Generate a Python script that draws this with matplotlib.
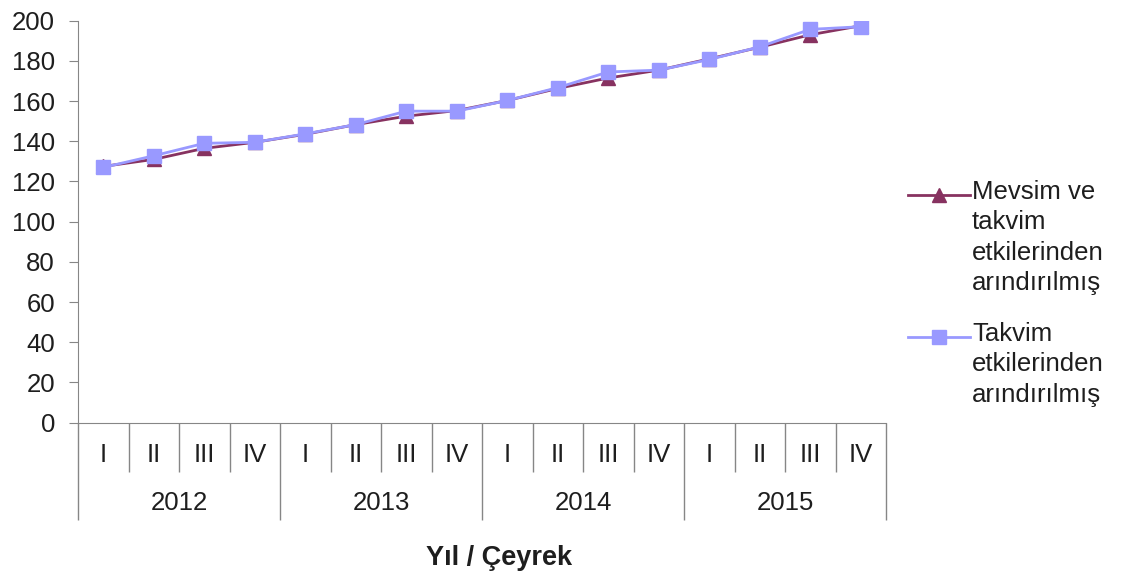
import matplotlib
matplotlib.use("Agg")
import matplotlib.pyplot as plt
from matplotlib.lines import Line2D
import numpy as np

plt.rcParams['font.family'] = ['Liberation Sans', 'DejaVu Sans']

years = ["2012", "2013", "2014", "2015"]
quarters = ["I", "II", "III", "IV"]
series1_label = "Mevsim ve\ntakvim\netkilerinden\narındırılmış"
series2_label = "Takvim\netkilerinden\narındırılmış"
series1 = [127.5, 131.0, 136.5, 139.5, 143.5, 148.3, 152.5, 155.3,
           160.3, 166.3, 171.5, 175.4, 181.0, 186.8, 193.0, 197.5]
series2 = [127.0, 132.8, 139.0, 139.5, 143.7, 148.3, 155.0, 155.0,
           160.3, 166.7, 174.5, 175.4, 180.7, 187.0, 195.7, 197.0]
yticks = [0, 20, 40, 60, 80, 100, 120, 140, 160, 180, 200]
xlabel = "Yıl / Çeyrek"

c1 = "#873260"
c2 = "#9999FF"
grey = "#868686"
tc = "#1e1e1e"
fs = 18.5

W, H = 1121, 572
fig = plt.figure(figsize=(W / 100, H / 100), dpi=100)
ax = fig.add_axes([78 / W, 1 - 422.7 / H, (886 - 78) / W, (422.7 - 20.7) / H])

n = len(years) * len(quarters)
x = np.arange(n)
ax.plot(x, series1, color=c1, lw=2, marker="^", ms=10, mfc=c1, mec=c1, zorder=3)
ax.plot(x, series2, color=c2, lw=2, marker="s", ms=10.5, mfc=c2, mec=c2, zorder=4)

ax.set_xlim(-0.5, n - 0.5)
ax.set_ylim(0, 200)
ax.set_yticks(yticks)
ax.tick_params(axis="y", direction="out", length=6.5, color=grey, labelsize=fs,
               pad=10, labelcolor=tc)

for s in ["top", "right"]:
    ax.spines[s].set_visible(False)
ax.spines["left"].set_color(grey)
ax.spines["bottom"].set_color(grey)

# category separators
q_bounds = np.arange(n + 1) - 0.5
y_bounds = np.arange(0, n + 1, len(quarters)) - 0.5
ax.set_xticks(y_bounds)
ax.set_xticklabels([])
ax.set_xticks(q_bounds, minor=True)
ax.tick_params(axis="x", which="major", direction="out", length=70, color=grey, width=1)
ax.tick_params(axis="x", which="minor", direction="out", length=35.5, color=grey, width=1)

tr = ax.get_xaxis_transform()
for i in range(n):
    ax.text(x[i], -32.5 / 402, quarters[i % 4], transform=tr, ha="center", va="center",
            fontsize=fs, color=tc)
for j, yr in enumerate(years):
    ax.text(j * 4 + 1.5, -80.5 / 402, yr, transform=tr, ha="center", va="center",
            fontsize=fs, color=tc)
fig.text(499 / W, 1 - 565 / H, xlabel, ha="center", va="baseline",
         fontsize=19.5, fontweight="bold", color=tc)

# legend (Excel-style, handle aligned with first text line)
def legend_entry(ycen, color, marker, ms, label):
    fig.add_artist(Line2D([908 / W, 970 / W], [1 - ycen / H] * 2, color=color, lw=2,
                          transform=fig.transFigure))
    fig.add_artist(Line2D([939 / W], [1 - ycen / H], color=color, marker=marker, ms=ms,
                          mfc=color, mec=color, transform=fig.transFigure))
    fig.text(972 / W, 1 - (ycen - 15) / H, label, ha="left", va="top", fontsize=fs,
             linespacing=1.34, color=tc)

legend_entry(195, c1, "^", 10, series1_label)
legend_entry(337, c2, "s", 10.5, series2_label)

fig.savefig("out.png", dpi=100)
